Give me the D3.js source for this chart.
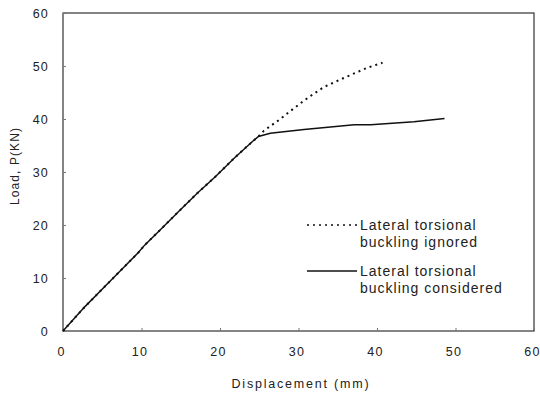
<!DOCTYPE html>
<html>
<head>
<meta charset="utf-8">
<script src="https://cdn.jsdelivr.net/npm/d3@7"></script>
<style>
    body { margin: 0; background: #fff; }
    text { font-family: "Liberation Sans", Arial, sans-serif; fill: #222; }
</style>
</head>
<body>
<div id="chart"></div>
<script>
(function() {
    "use strict";

    // Load-displacement data (mm, kN).
    var consideredX = [0, 2.8, 5.8, 9.6, 10.4, 12.4, 14.7, 17.1, 19.4, 21.8, 24.1, 24.9, 26.4, 30.7, 37.1, 39.2, 44.7, 48.6];
    var consideredY = [0, 4.6, 9.1, 14.8, 16.2, 19.1, 22.5, 26.0, 29.1, 32.6, 35.7, 36.7, 37.3, 38.0, 38.9, 38.9, 39.5, 40.1];
    var ignoredX = [0, 2.8, 5.8, 9.6, 10.4, 12.4, 14.7, 17.1, 19.4, 21.8, 24.1, 24.9, 25.6, 27.5, 29.4, 31.1, 33.2, 35.4, 37.1, 38.8, 40.7];
    var ignoredY = [0, 4.6, 9.1, 14.8, 16.2, 19.1, 22.5, 26.0, 29.1, 32.6, 35.7, 36.7, 37.8, 39.8, 42.0, 43.9, 46.0, 47.5, 48.6, 49.7, 50.6];
    var xTicks = [0, 10, 20, 30, 40, 50, 60];
    var yTicks = [0, 10, 20, 30, 40, 50, 60];

    var w = 540;
    var h = 399;

    var xScale = d3.scaleLinear().domain([0, 60]).range([63, 534]);
    var yScale = d3.scaleLinear().domain([0, 60]).range([331, 13]);

    var svg = d3.select("#chart").append("svg")
        .attr("width", w)
        .attr("height", h);

    // Frame round the plot area.
    svg.append("rect")
        .attr("x", xScale(0))
        .attr("y", yScale(60))
        .attr("width", xScale(60) - xScale(0))
        .attr("height", yScale(0) - yScale(60))
        .attr("fill", "none")
        .attr("stroke", "#333")
        .attr("stroke-width", 1.2);

    // Axes, small inward ticks.
    var xAxis = svg.append("g")
        .attr("transform", "translate(0," + yScale(0) + ")")
        .call(d3.axisBottom(xScale).tickValues(xTicks).tickSizeInner(-3).tickSizeOuter(0).tickPadding(16));
    var yAxis = svg.append("g")
        .attr("transform", "translate(" + xScale(0) + ",0)")
        .call(d3.axisLeft(yScale).tickValues(yTicks).tickSizeInner(-3).tickSizeOuter(0).tickPadding(14));

    [xAxis, yAxis].forEach(function(a) {
        a.select(".domain").remove();
        a.selectAll(".tick line").attr("stroke", "#777");
        a.selectAll("text")
            .attr("font-size", 12.5)
            .attr("letter-spacing", 1.2)
            .attr("fill", "#222");
    });
    xAxis.selectAll("text").attr("dx", -2);

    // Axis titles.
    svg.append("text")
        .attr("x", 301)
        .attr("y", 388)
        .attr("text-anchor", "middle")
        .attr("font-size", 12.5)
        .attr("letter-spacing", 1.8)
        .text("Displacement (mm)");

    svg.append("text")
        .attr("transform", "translate(19,166) rotate(-90)")
        .attr("text-anchor", "middle")
        .attr("font-size", 12)
        .attr("letter-spacing", 1.1)
        .text("Load, P(KN)");

    // Curves.
    var line = d3.line()
        .x(function(d) { return xScale(d[0]); })
        .y(function(d) { return yScale(d[1]); });

    var considered = consideredX.map(function(x, i) { return [x, consideredY[i]]; });
    var ignored = ignoredX.map(function(x, i) { return [x, ignoredY[i]]; });

    svg.append("path")
        .datum(ignored)
        .attr("d", line)
        .attr("fill", "none")
        .attr("stroke", "#111")
        .attr("stroke-width", 2)
        .attr("stroke-dasharray", "2,4");

    svg.append("path")
        .datum(considered)
        .attr("d", line)
        .attr("fill", "none")
        .attr("stroke", "#111")
        .attr("stroke-width", 1.5);

    // Legend.
    var legend = [
        { dash: "2,4", width: 1.5, y: 225, lines: ["Lateral torsional", "buckling ignored"] },
        { dash: null, width: 1.5, y: 271, lines: ["Lateral torsional", "buckling considered"] }
    ];

    legend.forEach(function(item) {
        svg.append("line")
            .attr("x1", 307)
            .attr("x2", 357)
            .attr("y1", item.y)
            .attr("y2", item.y)
            .attr("stroke", "#111")
            .attr("stroke-width", item.width)
            .attr("stroke-dasharray", item.dash);

        item.lines.forEach(function(t, i) {
            svg.append("text")
                .attr("x", 360)
                .attr("y", item.y + 5 + i * 17)
                .attr("font-size", 14)
                .attr("letter-spacing", 1)
                .text(t);
        });
    });
})();
</script>
</body>
</html>
